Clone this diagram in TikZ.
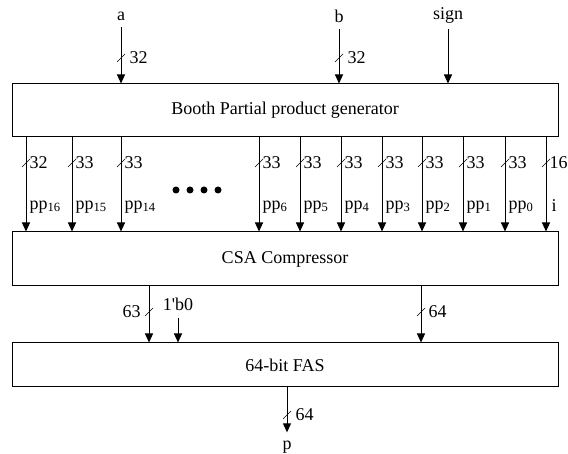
\documentclass[tikz,border=0pt]{standalone}
\usepackage{fontspec}
\setmainfont{Liberation Serif}
\usetikzlibrary{arrows.meta,positioning}

\begin{document}
\begin{tikzpicture}[x=1pt,y=-1pt,line width=1pt,font=\fontsize{18}{21}\selectfont,
blk/.style={draw,minimum width=546pt,inner sep=0pt},
arr/.style={-{Triangle[length=9pt,width=8pt]}},
bus/.style={line width=0.7pt},
lbl/.style={inner sep=0pt}]
\useasboundingbox (0,0) rectangle (568,454);
\node[blk,minimum height=53pt] (booth) at (285,110.5) {Booth Partial product generator};
\node[blk,minimum height=54pt] (csa) at (285,259) {CSA Compressor};
\node[blk,minimum height=44pt] (fas) at (285,365) {64-bit FAS};
% inputs
\node[lbl] (a) at (121,16) {a};
\node[lbl] (b) at (339,16) {b};
\node[lbl] (sign) at (448,15) {sign};
\draw[arr] ([yshift=-6pt]a.south) -- (booth.north -| a);
\draw[arr] ([yshift=-6pt]b.south) -- (booth.north -| b);
\draw[arr] ([yshift=-6pt]sign.south) -- (booth.north -| sign);
\draw[bus] (117,62) -- (125,54); \node[lbl,anchor=west] (wa) at (129,58) {32};
\draw[bus] (335,62) -- (343,54); \node[lbl,anchor=west] (wb) at (347,58) {32};
% partial products
\foreach \px/\bw/\pp in {26/32/16, 72/33/15, 121/33/14, 259/33/6, 300/33/5, 341/33/4, 382/33/3, 422/33/2, 463/33/1, 505/33/0}{
  \coordinate (t\pp) at (\px,0);
  \draw[arr] (booth.south -| t\pp) -- (csa.north -| t\pp);
  \draw[bus] (\px-4,167) -- (\px+4,159);
  \node[lbl,anchor=west] (w\pp) at (\px+3,163) {\bw};
  \node[lbl,anchor=west] (p\pp) at (\px+3,207) {pp\textsubscript{\pp}};
}
\coordinate (ti) at (546,0);
\draw[arr] (booth.south -| ti) -- (csa.north -| ti);
\draw[bus] (542,167) -- (550,159);
\node[lbl,anchor=west] (wi) at (549,163) {16};
\node[lbl,anchor=west] (pi) at (551,206) {i};
\foreach \dx in {176,190,204,218}
  \fill (\dx,190) circle (3.5pt);
% compressor to adder
\coordinate (tl) at (149,0);
\coordinate (tr) at (421,0);
\draw[arr] (csa.south -| tl) -- (fas.north -| tl);
\draw[bus] (145,316) -- (153,308); \node[lbl,anchor=east] (wl) at (141,312) {63};
\node[lbl] (zero) at (178,304) {1\textquotesingle b0};
\draw[arr] ([yshift=-7pt]zero.south) -- (fas.north -| zero);
\draw[arr] (csa.south -| tr) -- (fas.north -| tr);
\draw[bus] (417,316) -- (425,308); \node[lbl,anchor=west] (wr) at (428,312) {64};
% output
\node[lbl] (p) at (287,447) {p};
\draw[arr] (fas.south -| p) -- ([yshift=8pt]p.north);
\draw[bus] (283,419) -- (291,411); \node[lbl,anchor=west] (wp) at (295,415) {64};
\end{tikzpicture}
\end{document}
